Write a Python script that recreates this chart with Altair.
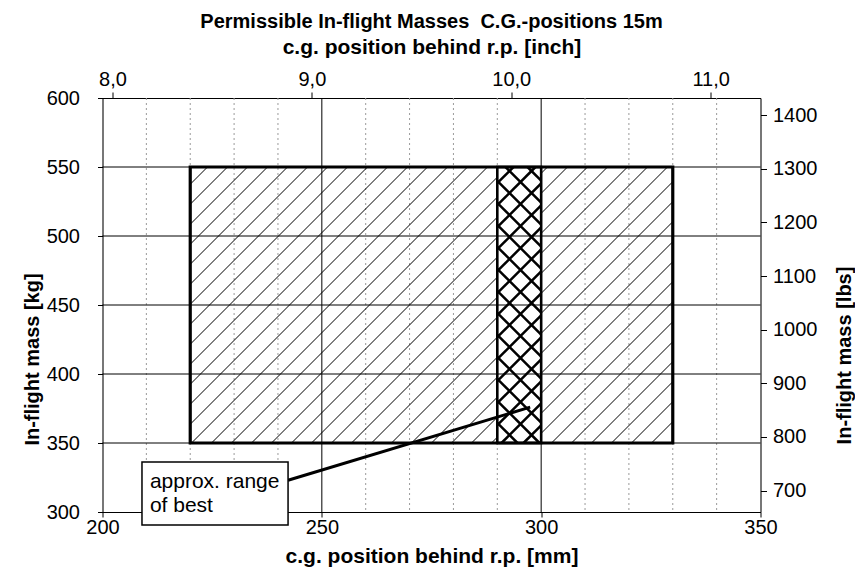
import altair as alt
import pandas as pd
import numpy as np

# ---------------- data ----------------
mm_domain = [200, 350]
kg_domain = [300, 600]
inch_domain = [7.95, 11.25]
lbs_domain = [660, 1432]
mm_ticks = [200, 250, 300, 350]
kg_ticks = [300, 350, 400, 450, 500, 550, 600]
inch_ticks = [8, 9, 10, 11]
lbs_ticks = [700, 800, 900, 1000, 1100, 1200, 1300, 1400]
minor_mm = [210, 220, 230, 240, 260, 270, 280, 290, 310, 320, 330, 340]
major_mm = [250, 300]
major_kg = [350, 400, 450, 500, 550]

envelope_mm = [220, 330]
envelope_kg = [350, 550]
best_mm = [290, 300]

callout_mm = [209.0, 242.3]
callout_kg = [290.6, 336.2]
callout_text = ["approx. range", "of best"]
callout_text_mm = [210.8, 210.8]
callout_text_kg = [317.4, 300.2]
arrow_mm = [242.3, 297.5]
arrow_kg = [323.0, 376.0]

# ---------------- layout ----------------
W, H = 658, 414
FONT = "Liberation Sans"
sx = W / (mm_domain[1] - mm_domain[0])
sy = H / (kg_domain[1] - kg_domain[0])


def hatch(m0, m1, k0, k1, spacing, direction):
    """Diagonal hatch segments clipped to a rectangle, returned in data units."""
    x0, x1 = (m0 - mm_domain[0]) * sx, (m1 - mm_domain[0]) * sx
    y0, y1 = (k0 - kg_domain[0]) * sy, (k1 - kg_domain[0]) * sy
    rows = []
    if direction == "/":
        start = np.floor((y0 - x1) / spacing) * spacing
        for c in np.arange(start, y1 - x0 + spacing, spacing):
            xs, xe = max(x0, y0 - c), min(x1, y1 - c)
            if xe - xs > 0.5:
                rows.append((xs, xs + c, xe, xe + c))
    else:
        start = np.floor((x0 + y0) / spacing) * spacing
        for c in np.arange(start, x1 + y1 + spacing, spacing):
            xs, xe = max(x0, c - y1), min(x1, c - y0)
            if xe - xs > 0.5:
                rows.append((xs, c - xs, xe, c - xe))
    return pd.DataFrame(
        [
            {
                "x": mm_domain[0] + a / sx,
                "y": kg_domain[0] + b / sy,
                "x2": mm_domain[0] + c / sx,
                "y2": kg_domain[0] + d / sy,
            }
            for a, b, c, d in rows
        ]
    )


thin = pd.concat(
    [
        hatch(envelope_mm[0], best_mm[0], envelope_kg[0], envelope_kg[1], 20, "/"),
        hatch(best_mm[1], envelope_mm[1], envelope_kg[0], envelope_kg[1], 20, "/"),
    ],
    ignore_index=True,
)
thick = pd.concat(
    [
        hatch(best_mm[0], best_mm[1], envelope_kg[0], envelope_kg[1], 22, "/"),
        hatch(best_mm[0], best_mm[1], envelope_kg[0], envelope_kg[1], 22, "\\"),
    ],
    ignore_index=True,
)

xs = alt.Scale(domain=mm_domain, nice=False, zero=False)
ys = alt.Scale(domain=kg_domain, nice=False, zero=False)

common_axis = dict(
    labelFont=FONT, titleFont=FONT, labelColor="black", titleColor="black",
    tickColor="black", domainColor="black", labelFontSize=20,
    titleFontWeight="bold", grid=False, zindex=0, labelFlush=False,
)

x_axis = alt.Axis(
    values=mm_ticks, format="d", title="c.g. position behind r.p. [mm]",
    tickSize=5, labelPadding=0, titleY=44, titleX=W / 2, titleBaseline="middle",
    titleFontSize=21, **common_axis,
)
y_axis = alt.Axis(
    values=kg_ticks, format="d", title="In-flight mass [kg]",
    tickSize=5, labelPadding=18, titleAngle=270, titleX=-70.5, titleY=261,
    titleBaseline="middle", titleAlign="center", titleFontSize=20, **common_axis,
)

minor_df = pd.DataFrame({"mm": minor_mm})
major_x_df = pd.DataFrame({"mm": major_mm})
major_y_df = pd.DataFrame({"kg": major_kg})

minor_grid = alt.Chart(minor_df).mark_rule(
    color="#9a9a9a", strokeWidth=1, strokeDash=[2, 3]
).encode(x=alt.X("mm:Q", scale=xs, axis=x_axis))

major_vgrid = alt.Chart(major_x_df).mark_rule(color="black", strokeWidth=1).encode(
    x=alt.X("mm:Q", scale=xs)
)
major_hgrid = alt.Chart(major_y_df).mark_rule(color="black", strokeWidth=1).encode(
    y=alt.Y("kg:Q", scale=ys, axis=y_axis)
)

thin_lines = alt.Chart(thin).mark_rule(color="black", strokeWidth=1).encode(
    x=alt.X("x:Q", scale=xs), y=alt.Y("y:Q", scale=ys), x2="x2:Q", y2="y2:Q"
)
thick_lines = alt.Chart(thick).mark_rule(color="black", strokeWidth=2.5).encode(
    x=alt.X("x:Q", scale=xs), y=alt.Y("y:Q", scale=ys), x2="x2:Q", y2="y2:Q"
)

rect_df = pd.DataFrame(
    {
        "x": [envelope_mm[0], best_mm[0]],
        "x2": [envelope_mm[1], best_mm[1]],
        "y": [envelope_kg[0], envelope_kg[0]],
        "y2": [envelope_kg[1], envelope_kg[1]],
        "w": [3.2, 2.6],
    }
)
rects = alt.Chart(rect_df).mark_rect(fillOpacity=0, stroke="black").encode(
    x=alt.X("x:Q", scale=xs), x2="x2:Q",
    y=alt.Y("y:Q", scale=ys), y2="y2:Q",
    strokeWidth=alt.StrokeWidth("w:Q", scale=None),
)

arrow_df = pd.DataFrame(
    {"x": [arrow_mm[0]], "x2": [arrow_mm[1]], "y": [arrow_kg[0]], "y2": [arrow_kg[1]]}
)
arrow = alt.Chart(arrow_df).mark_rule(color="black", strokeWidth=3).encode(
    x=alt.X("x:Q", scale=xs), y=alt.Y("y:Q", scale=ys), x2="x2:Q", y2="y2:Q"
)

box_df = pd.DataFrame(
    {"x": [callout_mm[0]], "x2": [callout_mm[1]], "y": [callout_kg[0]], "y2": [callout_kg[1]]}
)
box = alt.Chart(box_df).mark_rect(
    fill="white", stroke="black", strokeWidth=1.5, clip=False
).encode(
    x=alt.X("x:Q", scale=xs), x2="x2:Q", y=alt.Y("y:Q", scale=ys), y2="y2:Q"
)

text_df = pd.DataFrame({"x": callout_text_mm, "y": callout_text_kg, "t": callout_text})
box_text = alt.Chart(text_df).mark_text(
    align="left", baseline="alphabetic", font=FONT, fontSize=21, color="black", clip=False
).encode(x=alt.X("x:Q", scale=xs), y=alt.Y("y:Q", scale=ys), text="t:N")

main = alt.layer(
    minor_grid, major_vgrid, major_hgrid, thin_lines, thick_lines, rects, arrow, box, box_text
)

# secondary axes (inch on top, lbs on right)
sec_df = pd.DataFrame({"inch": inch_domain, "lbs": lbs_domain})
secondary = alt.Chart(sec_df).mark_point(opacity=0).encode(
    x=alt.X(
        "inch:Q",
        scale=alt.Scale(domain=inch_domain, nice=False, zero=False),
        axis=alt.Axis(
            orient="top", values=inch_ticks, title="c.g. position behind r.p. [inch]",
            labelExpr="replace(format(datum.value, '.1f'), '.', ',')",
            tickSize=6, labelPadding=3, titleY=-51, titleX=W / 2, titleBaseline="middle",
            titleFontSize=21, **common_axis,
        ),
    ),
    y=alt.Y(
        "lbs:Q",
        scale=alt.Scale(domain=lbs_domain, nice=False, zero=False),
        axis=alt.Axis(
            orient="right", values=lbs_ticks, format="d", title="In-flight mass [lbs]",
            tickSize=6, labelPadding=6, titleAngle=270, titleX=84, titleY=257,
            titleBaseline="middle", titleAlign="center", titleFontSize=20,
            **common_axis,
        ),
    ),
)

chart = (
    alt.layer(main, secondary)
    .resolve_scale(x="independent", y="independent")
    .properties(
        width=W,
        height=H,
        autosize=alt.AutoSizeParams(type="none"),
        padding={"left": 94.5, "top": 90, "right": 94.5, "bottom": 60},
        title=alt.TitleParams(
            "Permissible In-flight Masses\u00a0 C.G.-positions 15m",
            font=FONT, fontSize=20, fontWeight="bold", color="black",
            anchor="middle", frame="group", offset=4,
        ),
    )
    .configure_view(stroke="black", strokeWidth=1)
    .configure(background="white")
)

chart.save("out.html", embed_options={"renderer": "svg", "actions": False})
